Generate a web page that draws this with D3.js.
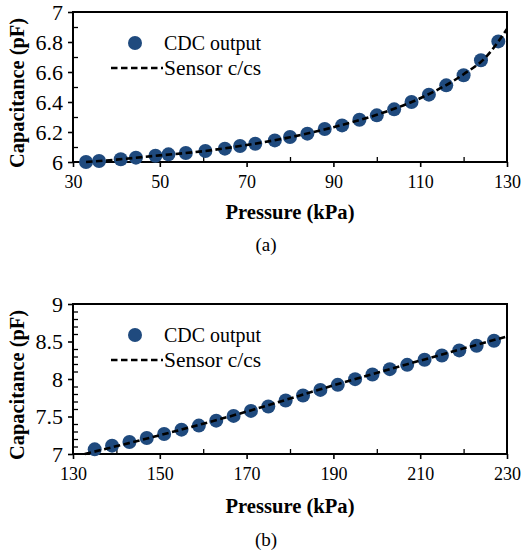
<!DOCTYPE html>
<html>
<head>
<meta charset="utf-8">
<script src="https://cdn.jsdelivr.net/npm/d3@7"></script>
<style>
  html, body { margin: 0; padding: 0; background: #fff; }
  svg { display: block; }
  text { font-family: "Liberation Serif", "Times New Roman", serif; fill: #000; }
</style>
</head>
<body>
<svg id="chart" width="531" height="552"></svg>
<script>
// ---------- Data ----------
// Panel (a)
const pressureA = [33, 36, 41, 44.5, 49, 52, 56, 60.5, 65, 68.5, 72, 76.5, 80, 84, 88, 92, 96, 100, 104, 108, 112, 116, 120, 124, 128];
const cdcA = [6.0, 6.007, 6.018, 6.029, 6.042, 6.051, 6.06, 6.073, 6.089, 6.107, 6.122, 6.144, 6.167, 6.189, 6.22, 6.244, 6.282, 6.311, 6.351, 6.4, 6.449, 6.511, 6.578, 6.678, 6.804];
const sensorPressureA = [33, 40, 50, 60, 70, 80, 90, 100, 110, 120, 125, 130];
const sensorCapA = [6.0, 6.016, 6.044, 6.072, 6.113, 6.165, 6.232, 6.315, 6.425, 6.585, 6.695, 6.887];
const xTicksA = [30, 50, 70, 90, 110, 130];
const yTicksA = [6, 6.2, 6.4, 6.6, 6.8, 7];

// Panel (b)
const pressureB = [135, 139, 143, 147, 151, 155, 159, 163, 167, 171, 175, 179, 183, 187, 191, 195, 199, 203, 207, 211, 215, 219, 223, 227];
const cdcB = [7.062, 7.111, 7.16, 7.214, 7.267, 7.325, 7.379, 7.445, 7.508, 7.575, 7.633, 7.713, 7.78, 7.855, 7.922, 7.998, 8.06, 8.131, 8.189, 8.256, 8.314, 8.381, 8.443, 8.51];
const sensorPressureB = [132.7, 150, 170, 190, 210, 230];
const sensorCapB = [7.0, 7.25, 7.565, 7.915, 8.245, 8.568];
const xTicksB = [130, 150, 170, 190, 210, 230];
const yTicksB = [7, 7.5, 8, 8.5, 9];

const legendLabels = ["CDC output", "Sensor c/cs"];
const xTitle = "Pressure (kPa)";
const yTitle = "Capacitance (pF)";

// ---------- Drawing ----------
const svg = d3.select("#chart");
const BLUE = "#1F4A7E";

function panel(opt) {
  const { top, bottom, left, right, xDomain, yDomain, xTicks, yTicks, xMinor, yMinor,
          px, py, lx, ly, fmtY, caption, xTitleDy, captionDy } = opt;
  const x = d3.scaleLinear().domain(xDomain).range([left, right]);
  const y = d3.scaleLinear().domain(yDomain).range([bottom, top]);
  const g = svg.append("g");

  // minor ticks (inside)
  const gx = g.append("g").attr("transform", `translate(0,${bottom})`)
    .call(d3.axisTop(x).tickValues(xMinor).tickSize(5).tickFormat(""));
  gx.select(".domain").remove();
  gx.selectAll("line").attr("stroke", "#000").attr("stroke-width", 1.3);
  const gy = g.append("g").attr("transform", `translate(${left},0)`)
    .call(d3.axisRight(y).tickValues(yMinor).tickSize(5).tickFormat(""));
  gy.select(".domain").remove();
  gy.selectAll("line").attr("stroke", "#000").attr("stroke-width", 1.3);

  // major ticks (outside) with labels
  const ax = g.append("g").attr("transform", `translate(0,${bottom})`)
    .call(d3.axisBottom(x).tickValues(xTicks).tickSize(5).tickSizeOuter(0).tickPadding(8).tickFormat(d3.format("d")));
  ax.select(".domain").remove();
  ax.selectAll("line").attr("stroke", "#000").attr("stroke-width", 1.6);
  ax.selectAll("text").attr("font-size", 18).attr("font-family", "Liberation Serif").attr("fill", "#000");

  const ay = g.append("g").attr("transform", `translate(${left},0)`)
    .call(d3.axisLeft(y).tickValues(yTicks).tickSize(5).tickSizeOuter(0).tickPadding(5).tickFormat(fmtY));
  ay.select(".domain").remove();
  ay.selectAll("line").attr("stroke", "#000").attr("stroke-width", 1.6);
  ay.selectAll("text").attr("font-size", 22).attr("font-family", "Liberation Serif").attr("fill", "#000");

  // frame
  g.append("rect").attr("x", left).attr("y", top)
    .attr("width", right - left).attr("height", bottom - top)
    .attr("fill", "none").attr("stroke", "#000").attr("stroke-width", 2);

  // points
  g.append("g").selectAll("circle").data(px.map((d, i) => [d, py[i]])).join("circle")
    .attr("cx", d => x(d[0])).attr("cy", d => y(d[1])).attr("r", 7).attr("fill", BLUE);

  // sensor line
  const line = d3.line().x(d => x(d[0])).y(d => y(d[1])).curve(d3.curveMonotoneX);
  g.append("path").datum(lx.map((d, i) => [d, ly[i]]))
    .attr("d", line).attr("fill", "none").attr("stroke", "#000")
    .attr("stroke-width", 2.6).attr("stroke-dasharray", "6.5,3.5");

  // legend
  const legY1 = top + 31, legY2 = top + 56;
  g.append("circle").attr("cx", 135).attr("cy", legY1).attr("r", 7).attr("fill", BLUE);
  g.append("text").attr("x", 164).attr("y", legY1).attr("dy", "0.35em")
    .attr("font-size", 20).attr("textLength", 97).attr("lengthAdjust", "spacingAndGlyphs")
    .text(legendLabels[0]);
  g.append("line").attr("x1", 111).attr("x2", 163).attr("y1", legY2).attr("y2", legY2)
    .attr("stroke", "#000").attr("stroke-width", 2.6).attr("stroke-dasharray", "6.5,3.5");
  g.append("text").attr("x", 164).attr("y", legY2).attr("dy", "0.35em")
    .attr("font-size", 20).attr("textLength", 97).attr("lengthAdjust", "spacingAndGlyphs")
    .text(legendLabels[1]);

  // axis titles
  g.append("text").attr("x", (left + right) / 2).attr("y", bottom + xTitleDy)
    .attr("text-anchor", "middle").attr("font-size", 20).attr("font-weight", "bold")
    .attr("textLength", 129).attr("lengthAdjust", "spacingAndGlyphs").text(xTitle);
  g.append("text").attr("transform", `translate(24,${(top + bottom) / 2 + 6}) rotate(-90)`)
    .attr("text-anchor", "middle").attr("font-size", 20).attr("font-weight", "bold")
    .attr("textLength", 150).attr("lengthAdjust", "spacingAndGlyphs").text(yTitle);

  // caption
  g.append("text").attr("x", 266).attr("y", bottom + captionDy)
    .attr("text-anchor", "middle").attr("font-size", 19).text(caption);
}

panel({
  top: 12, bottom: 162, left: 73, right: 507,
  xDomain: [30, 130], yDomain: [6, 7],
  xTicks: xTicksA, yTicks: yTicksA,
  xMinor: [40, 60, 80, 100, 120], yMinor: [6.1, 6.3, 6.5, 6.7, 6.9],
  px: pressureA, py: cdcA, lx: sensorPressureA, ly: sensorCapA,
  fmtY: d => (d === 6 || d === 7) ? d3.format("d")(d) : d3.format(".1f")(d),
  caption: "(a)", xTitleDy: 57, captionDy: 89
});

panel({
  top: 304, bottom: 454, left: 73, right: 507,
  xDomain: [130, 230], yDomain: [7, 9],
  xTicks: xTicksB, yTicks: yTicksB,
  xMinor: [140, 160, 180, 200, 220],
  yMinor: [7.1, 7.2, 7.3, 7.4, 7.6, 7.7, 7.8, 7.9, 8.1, 8.2, 8.3, 8.4, 8.6, 8.7, 8.8, 8.9],
  px: pressureB, py: cdcB, lx: sensorPressureB, ly: sensorCapB,
  fmtY: d => Number.isInteger(d) ? d3.format("d")(d) : d3.format(".1f")(d),
  caption: "(b)", xTitleDy: 59, captionDy: 92
});
</script>
</body>
</html>
